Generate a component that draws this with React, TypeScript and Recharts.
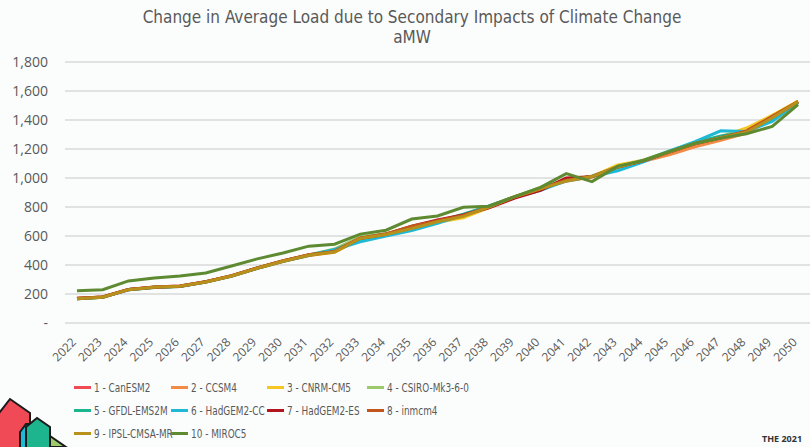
import React from 'react';
import { LineChart, Line, XAxis, YAxis, CartesianGrid, Legend } from 'recharts';

const years = [
  '2022', '2023', '2024', '2025', '2026', '2027', '2028', '2029', '2030', '2031',
  '2032', '2033', '2034', '2035', '2036', '2037', '2038', '2039', '2040', '2041',
  '2042', '2043', '2044', '2045', '2046', '2047', '2048', '2049', '2050',
];

const canESM2 = [170, 180, 232, 248, 255, 285, 326, 380, 428, 470, 495, 585, 612, 660, 702, 740, 805, 872, 922, 985, 1012, 1078, 1118, 1178, 1235, 1280, 1318, 1420, 1528];
const ccsm4 = [167, 177, 229, 245, 252, 282, 322, 377, 424, 466, 488, 582, 608, 655, 700, 738, 802, 870, 928, 978, 1008, 1080, 1115, 1160, 1215, 1260, 1310, 1430, 1520];
const cnrmCm5 = [168, 178, 230, 246, 252, 283, 324, 378, 425, 466, 490, 580, 608, 650, 695, 725, 795, 868, 928, 982, 1012, 1090, 1122, 1182, 1242, 1285, 1345, 1432, 1530];
const csiroMk3 = [169, 179, 231, 247, 254, 284, 325, 380, 428, 470, 510, 595, 615, 650, 700, 745, 805, 872, 935, 985, 1010, 1078, 1125, 1185, 1242, 1280, 1312, 1410, 1522];
const gfdlEsm2m = [168, 178, 230, 246, 253, 283, 324, 378, 426, 468, 505, 575, 612, 648, 700, 750, 808, 870, 930, 982, 1012, 1072, 1122, 1185, 1245, 1290, 1318, 1405, 1520];
const hadgem2Cc = [167, 177, 229, 245, 252, 282, 323, 377, 425, 466, 505, 560, 600, 638, 688, 745, 802, 865, 915, 980, 1010, 1050, 1112, 1185, 1250, 1325, 1320, 1390, 1520];
const hadgem2Es = [169, 179, 231, 247, 254, 284, 325, 379, 428, 469, 492, 585, 612, 668, 710, 745, 795, 862, 915, 1000, 1008, 1075, 1118, 1178, 1236, 1278, 1320, 1420, 1526];
const inmcm4 = [170, 180, 232, 248, 255, 285, 326, 380, 430, 470, 494, 585, 615, 668, 705, 742, 800, 870, 925, 985, 1010, 1078, 1120, 1180, 1238, 1275, 1325, 1425, 1528];
const ipslCm5aMr = [168, 178, 230, 246, 253, 283, 324, 378, 426, 467, 490, 583, 610, 652, 698, 735, 800, 871, 925, 980, 1010, 1075, 1120, 1180, 1238, 1278, 1315, 1415, 1525];
const miroc5 = [223, 230, 290, 310, 324, 345, 393, 442, 483, 530, 543, 613, 640, 717, 738, 798, 805, 871, 935, 1030, 975, 1082, 1120, 1182, 1240, 1275, 1305, 1356, 1506];

const yTicks = [0, 200, 400, 600, 800, 1000, 1200, 1400, 1600, 1800];

const SERIES = [
  { key: 'canESM2', name: '1 - CanESM2', color: '#ef4a55', values: canESM2 },
  { key: 'ccsm4', name: '2 - CCSM4', color: '#f28b46', values: ccsm4 },
  { key: 'cnrmCm5', name: '3 - CNRM-CM5', color: '#f6c722', values: cnrmCm5 },
  { key: 'csiroMk3', name: '4 - CSIRO-Mk3-6-0', color: '#9cc96b', values: csiroMk3 },
  { key: 'gfdlEsm2m', name: '5 - GFDL-EMS2M', color: '#1db58e', values: gfdlEsm2m },
  { key: 'hadgem2Cc', name: '6 - HadGEM2-CC', color: '#1fb9d5', values: hadgem2Cc },
  { key: 'hadgem2Es', name: '7 - HadGEM2-ES', color: '#b3151f', values: hadgem2Es },
  { key: 'inmcm4', name: '8 - inmcm4', color: '#c2561c', values: inmcm4 },
  { key: 'ipslCm5aMr', name: '9 - IPSL-CMSA-MR', color: '#b8901c', values: ipslCm5aMr },
  { key: 'miroc5', name: '10 - MIROC5', color: '#5e8a31', values: miroc5 },
];

const chartData = years.map((year, i) => {
  const row: Record<string, string | number> = { year };
  SERIES.forEach((s) => { row[s.key] = s.values[i]; });
  return row;
});

const NARROW = "'Liberation Sans Narrow', 'DejaVu Sans Condensed', sans-serif";
const TEXT = '#595959';
const legendCols = [74, 171, 267, 367];

const renderLegend = () => (
  <div style={{ position: 'relative', width: 810, height: 70 }}>
    {SERIES.map((s, i) => (
      <div
        key={s.key}
        style={{
          position: 'absolute',
          left: legendCols[i % 4],
          top: Math.floor(i / 4) * 23,
          display: 'flex',
          alignItems: 'center',
          fontFamily: NARROW,
          fontSize: 13,
          color: TEXT,
          whiteSpace: 'nowrap',
        }}
      >
        <span style={{ width: 17, height: 3, background: s.color, marginRight: 3, display: 'inline-block' }} />
        <span style={{ display: 'inline-block', transform: 'scaleX(0.76)', transformOrigin: 'left center' }}>{s.name}</span>
      </div>
    ))}
  </div>
);

const XTick = ({ x, y, payload }: any) => (
  <text
    x={x - 3}
    y={y + 9}
    transform={`rotate(-45 ${x - 3} ${y + 9})`}
    textAnchor="end"
    fill={TEXT}
    fontSize={12}
    fontFamily="'Open Sans', sans-serif"
    dy="0.35em"
  >
    {payload.value}
  </text>
);

const Logo = () => (
  <svg width={90} height={60} style={{ position: 'absolute', left: 0, top: 387 }}>
    <polygon points="-4,30 10,12 30,26 30,70 -4,70" fill="#ef4a55" stroke="#1a1a1a" strokeWidth={2} />
    <polygon points="20,45 26,37 30,37 30,70 20,70" fill="#1fb9d5" stroke="#1a1a1a" strokeWidth={2} />
    <polygon points="26,40 37,31 50,40 50,70 26,70" fill="#1db58e" stroke="#1a1a1a" strokeWidth={2} />
    <polygon points="50,49 66,60 50,60" fill="#9cc96b" stroke="#1a1a1a" strokeWidth={2} />
  </svg>
);

export default function App() {
  return (
    <div style={{ position: 'absolute', left: 0, top: 0, width: 810, height: 447, background: '#fbfdfd', overflow: 'hidden' }}>
      <div
        style={{
          position: 'absolute', left: 0, top: 7, width: 824, textAlign: 'center',
          fontFamily: NARROW, fontSize: 17, lineHeight: '20px', color: TEXT,
        }}
      >
        Change in Average Load due to Secondary Impacts of Climate Change
        <br />
        aMW
      </div>
      <LineChart width={810} height={447} data={chartData} margin={{ top: 62, right: 0, bottom: 0, left: 0 }}>
        <CartesianGrid vertical={false} stroke="#d9d9d9" strokeWidth={1.3} />
        <XAxis
          dataKey="year"
          height={124}
          axisLine={false}
          tickLine={false}
          interval={0}
          padding={{ left: 12, right: 12 }}
          tick={<XTick />}
        />
        <YAxis
          width={65}
          domain={[0, 1800]}
          ticks={yTicks}
          axisLine={false}
          tickLine={false}
          tickMargin={11}
          tick={{ fill: TEXT, fontSize: 14, fontFamily: "'Open Sans', sans-serif" }}
          tickFormatter={(v: number) => (v === 0 ? '-' : v.toLocaleString('en-US'))}
        />
        <Legend
          verticalAlign="middle"
          content={renderLegend}
          wrapperStyle={{ position: 'absolute', left: 0, top: 380, width: 810, height: 70 }}
        />
        {SERIES.map((s) => (
          <Line
            key={s.key}
            dataKey={s.key}
            name={s.name}
            stroke={s.color}
            strokeWidth={3}
            dot={false}
            activeDot={false}
            isAnimationActive={false}
          />
        ))}
      </LineChart>
      <Logo />
      <div
        style={{
          position: 'absolute', left: 762, top: 432, fontFamily: "'Open Sans', sans-serif",
          fontSize: 9, fontWeight: 700, color: '#333',
        }}
      >
        THE 2021
      </div>
    </div>
  );
}
